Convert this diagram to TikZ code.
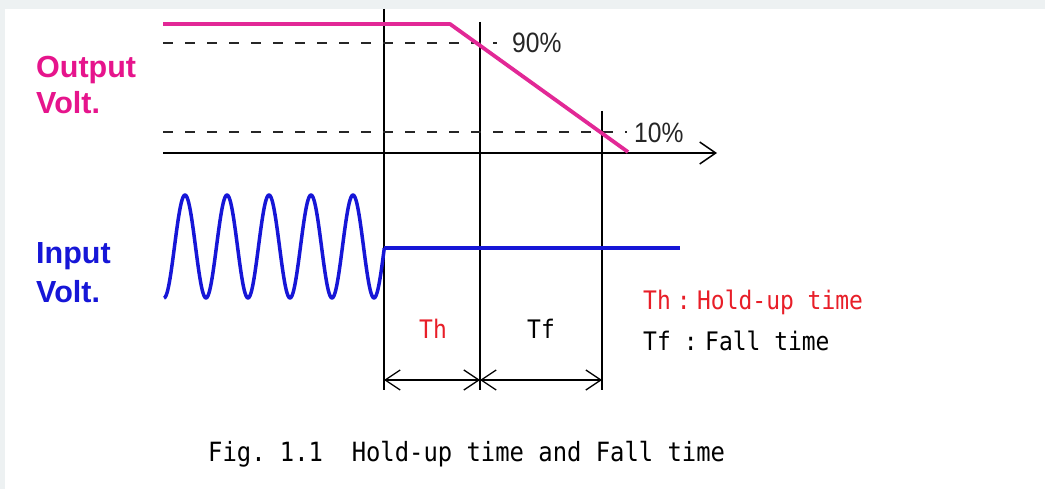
\documentclass[tikz,border=0pt]{standalone}
\usepackage{fontspec}
\usetikzlibrary{arrows.meta}
\newfontfamily\lblfont{Liberation Sans}
\newfontfamily\pctfont{Liberation Sans}[FakeStretch=0.88]
\newfontfamily\gothfont{DejaVu Sans Mono}[FakeStretch=0.9]
\definecolor{bggray}{RGB}{237,241,242}
\definecolor{outpink}{RGB}{230,20,140}
\definecolor{linepink}{RGB}{226,40,150}
\definecolor{inblue}{RGB}{22,22,215}
\definecolor{thred}{RGB}{232,30,40}
\tikzset{
  vline/.style={draw=black, line width=1.3pt},
  dashline/.style={draw=black!85, line width=1.6pt, dash pattern=on 10pt off 12pt},
  outwave/.style={draw=linepink, line width=3.8pt, line join=round},
  inwave/.style={draw=inblue, line width=3.5pt, line join=round},
  axisline/.style={draw=black, line width=1.5pt, -{Straight Barb[length=16pt,width=22pt,line width=1.5pt]}},
  dimarrow/.style={draw=black, line width=1.3pt, {Straight Barb[length=15pt,width=20pt,line width=1.3pt]}-{Straight Barb[length=15pt,width=20pt,line width=1.3pt]}},
  sigtext/.style={inner sep=0pt, anchor=base west, font=\lblfont\bfseries\fontsize{30.5}{35}\selectfont},
  pcttext/.style={inner sep=0pt, anchor=base west, font=\pctfont\fontsize{28}{32}\selectfont, text=black!85},
  gothtext/.style={inner sep=0pt, anchor=base west, font=\gothfont\fontsize{25.5}{30}\selectfont},
}
\begin{document}
\begin{tikzpicture}[x=1pt,y=-1pt]
\useasboundingbox (0,0) rectangle (1045,489);
\fill[bggray] (0,0) rectangle (1045,489);
\fill[white] (5,9) rectangle (1045,489);

% coordinates
\coordinate (v1t) at (384,9);   \coordinate (v1b) at (384,390);
\coordinate (v2t) at (480,22);  \coordinate (v2b) at (480,390);
\coordinate (v3t) at (602,111); \coordinate (v3b) at (602,390);
\coordinate (ax0) at (163,153); \coordinate (ax1) at (717,153);
\coordinate (d90a) at (163,43); \coordinate (d90b) at (497,43);
\coordinate (d10a) at (163,132); \coordinate (d10b) at (627,132);
\coordinate (o0) at (163,24); \coordinate (oknee) at (450,24); \coordinate (oend) at (628,152);
\coordinate (i0) at (384,248); \coordinate (i1) at (680,248);
\coordinate (a1) at (384,380); \coordinate (a2) at (480,380); \coordinate (a3) at (602,380);

% vertical markers
\draw[vline] (v1t) -- (v1b);
\draw[vline] (v2t) -- (v2b);
\draw[vline] (v3t) -- (v3b);

% dashed levels
\draw[dashline] (d90a) -- (d90b);
\draw[dashline] (d10a) -- (d10b);

% axis
\draw[axisline] (ax0) -- (ax1);

% output voltage
\draw[outwave] (o0) -- (oknee) -- (oend);

% input voltage
\draw[inwave] plot[domain=164:384, samples=221, smooth] (\x, {246.5+51.5*cos(((\x-374)/42)*360)}) -- (i0);
\draw[inwave] (i0) -- (i1);

% dimension arrows
\draw[dimarrow] (a1) -- (a2);
\draw[dimarrow] (a2) -- (a3);

% labels
\node[sigtext, text=outpink] (outl1) at (36,78) {Output};
\node[sigtext, text=outpink] (outl2) at (36,114) {Volt.};
\node[sigtext, text=inblue] (inl1) at (36,264) {Input};
\node[sigtext, text=inblue] (inl2) at (36,302) {Volt.};

\node[pcttext] (p90) at (512,53) {90\%};
\node[pcttext] (p10) at (634,143) {10\%};

\node[gothtext, anchor=base, text=thred] (th) at (433,338) {Th};
\node[gothtext, anchor=base] (tf) at (541,338) {Tf};

\node[gothtext, text=thred] (leg1) at (643,310) {\makebox[27pt][l]{Th}\makebox[27pt][c]{:}Hold-up time};
\node[gothtext] (leg2) at (643,350) {\makebox[27pt][l]{Tf}\makebox[35pt][c]{\hspace{6pt}:}Fall time};

\node[gothtext, font=\gothfont\fontsize{26.5}{30}\selectfont] (cap) at (208,461) {Fig.\ 1.1\ \ Hold-up time and Fall time};
\end{tikzpicture}
\end{document}
